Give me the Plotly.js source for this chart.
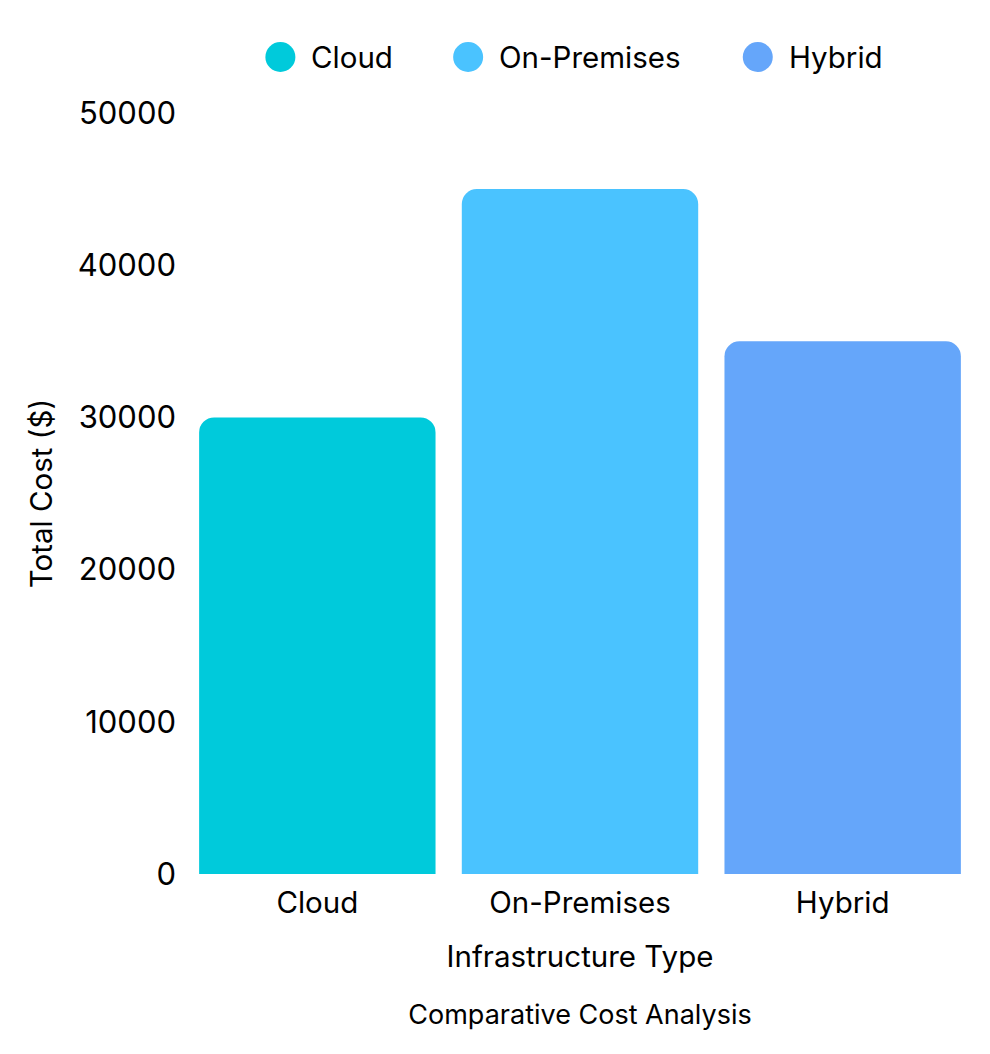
<!DOCTYPE html>
<html>
<head>
<meta charset="utf-8">
<script src="https://cdn.plot.ly/plotly-3.0.1.min.js"></script>
<style>html,body{margin:0;padding:0;background:#fff;}#chart{width:990px;height:1054px;}</style>
</head>
<body>
<div id="chart"></div>
<script>
const categories = ["Cloud", "On-Premises", "Hybrid"];
const totalCost = [30000, 45000, 35000];
const barColors = ["#00CADB", "#4AC3FF", "#65A6FA"];
const yTickVals = [0, 10000, 20000, 30000, 40000, 50000];
const yTickText = ["0", "10000", "20000", "30000", "40000", "50000"];

const FONT = "Inter, 'Noto Sans', sans-serif";
const W = 990, H = 1054;
const M = {l: 185.5, r: 15.5, t: 113, b: 180};
const plotW = W - M.l - M.r, plotH = H - M.t - M.b;
const px2x = p => (p - M.l) / plotW;
const py2y = p => (H - M.b - p) / plotH;

const traces = [{
  type: "bar",
  x: categories,
  y: totalCost,
  marker: {color: barColors},
  showlegend: false,
  hoverinfo: "x+y"
}];

// Custom legend (circles + labels) built from the category arrays
const legendCircleX = [280, 468, 758];
const legendY = 57;
const shapes = [], annotations = [];
categories.forEach((c, i) => {
  shapes.push({
    type: "circle", xref: "paper", yref: "paper",
    xsizemode: "pixel", ysizemode: "pixel",
    xanchor: px2x(legendCircleX[i]), yanchor: py2y(legendY),
    x0: -15, x1: 15, y0: -15, y1: 15,
    fillcolor: barColors[i], line: {width: 0}
  });
  annotations.push({
    text: c, xref: "paper", yref: "paper", showarrow: false,
    x: px2x(legendCircleX[i] + 29), y: py2y(legendY),
    xanchor: "left", yanchor: "middle",
    font: {family: FONT, size: 29.5, color: "#000"}
  });
});

const layout = {
  width: W, height: H,
  paper_bgcolor: "#fff", plot_bgcolor: "#fff",
  font: {family: FONT, size: 29.5, color: "#000"},
  margin: M,
  barcornerradius: 15,
  bargap: 0.1,
  showlegend: false,
  title: {text: "Comparative Cost Analysis", font: {family: FONT, size: 27, color: "#000"},
          x: 0.5, xref: "paper", y: 1 - 1015/H, yref: "container", yanchor: "middle"},
  xaxis: {type: "category", showgrid: false, zeroline: false, showline: false, ticks: "",
          tickfont: {size: 29.5}, ticklabelstandoff: 8,
          title: {text: "Infrastructure Type", font: {size: 29.5}, standoff: 27}},
  yaxis: {range: [0, 50000], tickvals: yTickVals, ticktext: yTickText,
          showgrid: false, zeroline: false, showline: false,
          ticks: "", tickfont: {size: 31}, ticklabelstandoff: 9,
          title: {text: "Total Cost ($)", font: {size: 29.5}, standoff: 16}},
  shapes: shapes,
  annotations: annotations
};

Plotly.newPlot("chart", traces, layout, {displayModeBar: false});
</script>
</body>
</html>
